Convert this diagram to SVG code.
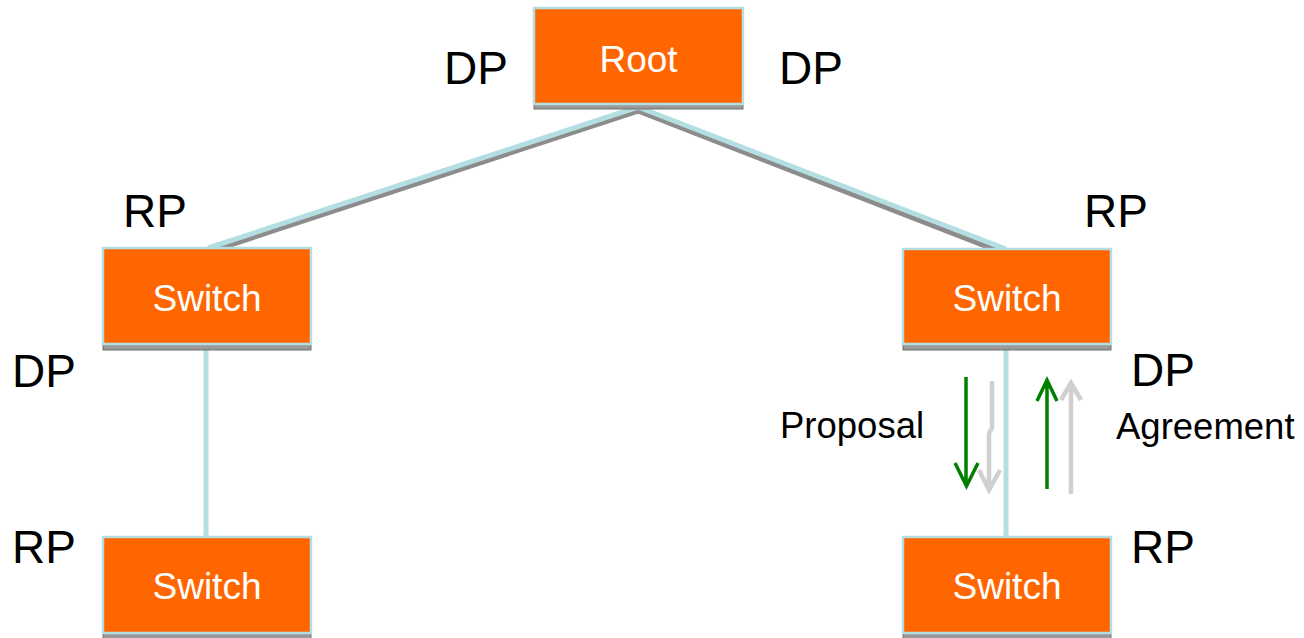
<svg xmlns="http://www.w3.org/2000/svg" width="1304" height="638" viewBox="0 0 1304 638">
<style>
.box{fill:#ff6600;stroke:#b4dfe2;stroke-width:2.5}
.shadow{fill:#9a9a9a;stroke:#707070;stroke-width:1}
.btxt{font-family:"Liberation Sans",Arial,sans-serif;font-size:37px;fill:#ffffff;text-anchor:middle}
.lbl{font-family:"Liberation Sans",Arial,sans-serif;font-size:46px;fill:#000000}
.msg{font-family:"Liberation Sans",Arial,sans-serif;font-size:36.5px;fill:#000000}
.link{stroke:#b4dfe2;stroke-width:5;fill:none}
.linkshadow{stroke:#8c8c8c;stroke-width:5;fill:none}
.green{stroke:#008000;stroke-width:3.5;fill:none}
.gray{stroke:#d0d0d0;stroke-width:4.5;fill:none}
</style>
<rect width="1304" height="638" fill="#ffffff"/>
<g id="connectors">
  <line class="linkshadow" x1="638" y1="111" x2="212" y2="251"/>
  <line class="link" x1="638" y1="107" x2="208" y2="248"/>
  <line class="linkshadow" x1="638" y1="111" x2="1003" y2="253"/>
  <line class="link" x1="638" y1="107" x2="1006" y2="249"/>
  <line class="link" x1="206" y1="345" x2="206" y2="538"/>
  <line class="link" x1="1006" y1="345" x2="1006" y2="538"/>
  <rect x="203.5" y="537" width="5" height="4" fill="#a04a10"/>
  <rect x="1003.5" y="537" width="5" height="4" fill="#a04a10"/>
</g>
<g id="root">
  <rect class="shadow" x="534" y="100" width="209" height="9"/>
  <rect class="box" x="534" y="8" width="209" height="96"/>
  <text class="btxt" x="638.5" y="72">Root</text>
</g>
<g id="switch-left">
  <rect class="shadow" x="103" y="341" width="208" height="9"/>
  <rect class="box" x="103" y="248" width="208" height="96"/>
  <text class="btxt" x="207" y="311">Switch</text>
</g>
<g id="switch-right">
  <rect class="shadow" x="903" y="341" width="208" height="9"/>
  <rect class="box" x="903" y="249" width="208" height="95"/>
  <text class="btxt" x="1007" y="311">Switch</text>
</g>
<g id="switch-bottom-left">
  <rect class="shadow" x="103" y="630" width="208" height="9"/>
  <rect class="box" x="103" y="537" width="208" height="96"/>
  <text class="btxt" x="207" y="599">Switch</text>
</g>
<g id="switch-bottom-right">
  <rect class="shadow" x="903" y="630" width="208" height="9"/>
  <rect class="box" x="903" y="537" width="208" height="96"/>
  <text class="btxt" x="1007" y="599">Switch</text>
</g>
<g id="port-labels">
  <text class="lbl" x="444" y="84">DP</text>
  <text class="lbl" x="779" y="84">DP</text>
  <text class="lbl" x="123" y="227">RP</text>
  <text class="lbl" x="1084" y="227">RP</text>
  <text class="lbl" x="12" y="387">DP</text>
  <text class="lbl" x="1131" y="386">DP</text>
  <text class="lbl" x="12" y="563">RP</text>
  <text class="lbl" x="1131" y="563">RP</text>
</g>
<g id="messages">
  <path class="gray" d="M992 381 V428 L989 433 V490 M979 470 L989 490 L1000 470"/>
  <path class="green" d="M966 377 V485 M955 463 L966.5 486 L978 463"/>
  <path class="gray" d="M1071 494 V386 M1061 400 L1071 383 L1081 400"/>
  <path class="green" d="M1047 489 V381 M1037 401 L1047 380 L1057 401"/>
  <text class="msg" x="780" y="438">Proposal</text>
  <text class="msg" x="1116" y="439">Agreement</text>
</g>
</svg>
